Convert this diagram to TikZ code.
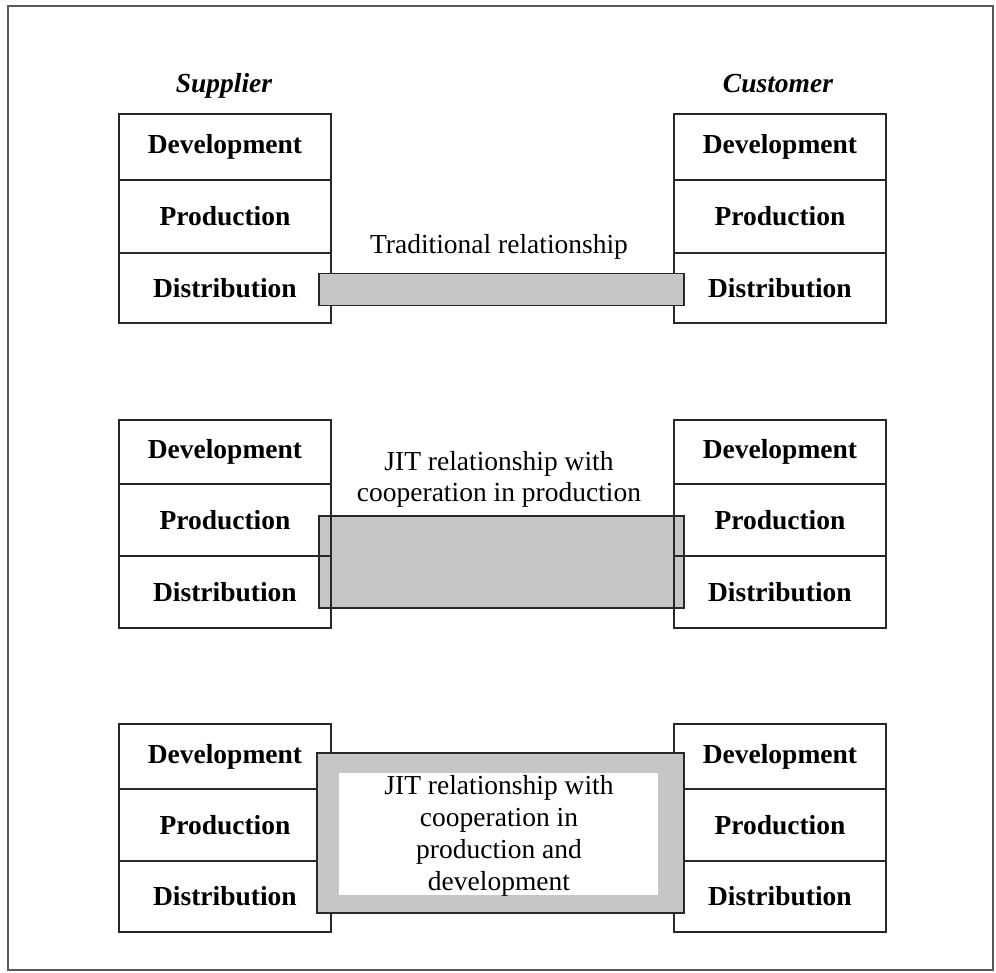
\documentclass[tikz,border=0pt]{standalone}
\usepackage{fontspec}
\setmainfont{Liberation Serif}
\definecolor{ink}{RGB}{40,40,40}
\definecolor{screen}{RGB}{198,198,198}
\begin{document}
\begin{tikzpicture}[x=1pt,y=-1pt,
  txt/.style={font=\fontsize{27.5}{31}\selectfont, align=center, inner sep=0pt},
  cell/.style={draw=ink, line width=1.9pt, rectangle, minimum width=212pt,
    anchor=north west, inner sep=0pt, font=\fontsize{27.5}{31}\selectfont\bfseries},
  head/.style={font=\fontsize{27.5}{31}\selectfont\bfseries\itshape, inner sep=0pt, anchor=base},
  bar/.style={draw=ink, line width=1.5pt, fill=screen, rectangle, anchor=north west, inner sep=0pt},
  hole/.style={fill=white, rectangle, anchor=north west, inner sep=0pt}]
\useasboundingbox (0,0) rectangle (996,973);
\draw[draw=black!65, line width=1.5pt] (8,6) rectangle (993,970);

% one column of three functions: prefix, left x, then the four horizontal lines
\newcommand\stackcells[6]{%
  \node[cell, minimum height={(#4-#3)*1pt}] (#1-dev)  at (#2,#3) {Development};
  \node[cell, minimum height={(#5-#4)*1pt}] (#1-prod) at (#2,#4) {Production};
  \node[cell, minimum height={(#6-#5)*1pt}] (#1-dist) at (#2,#5) {Distribution};}

\node[head] (supplier) at (224,93) {Supplier};
\node[head] (customer) at (778,93) {Customer};

% cooperation in production (lies under the column outlines)
\node[bar, minimum width=365pt, minimum height=92pt] (jitp) at (318,515) {};

\stackcells{sa}{118}{113}{179}{252}{322}
\stackcells{ca}{673}{113}{179}{252}{322}
\stackcells{sb}{118}{419}{483}{555}{627}
\stackcells{cb}{673}{419}{483}{555}{627}
\stackcells{sc}{118}{723}{788}{860}{931}
\stackcells{cc}{673}{723}{788}{860}{931}

% traditional link between the two distribution functions
\node[bar, minimum width=365pt, minimum height=32pt] (trad) at (318,273) {};
\node[txt] (tradlabel) at (499,247) {Traditional relationship};

\node[txt] (jitplabel) at (499,479) {JIT relationship with\\cooperation in production};

% cooperation in production and development
\node[bar, minimum width=367pt, minimum height=160pt] (jitpd) at (316,752) {};
\node[hole, minimum width=319pt, minimum height=122pt] (jitpdin) at (339,773) {};
\node[txt, font=\fontsize{27.5}{32}\selectfont] (jitpdlabel) at (499,836) {JIT relationship with\\cooperation in\\production and\\development};
\end{tikzpicture}
\end{document}
